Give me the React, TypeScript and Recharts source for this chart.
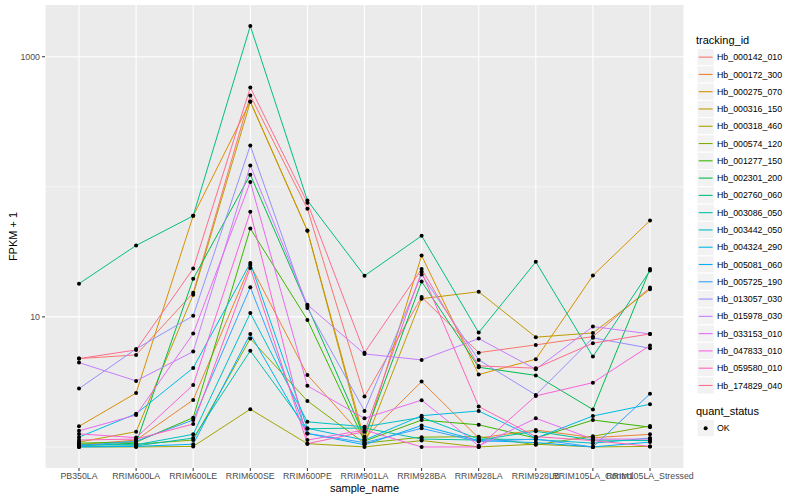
import React from "react";
import { CartesianGrid, Label, Line, LineChart, XAxis, YAxis } from "recharts";

const samples = [
  "PB350LA", "RRIM600LA", "RRIM600LE", "RRIM600SE", "RRIM600PE", "RRIM901LA",
  "RRIM928BA", "RRIM928LA", "RRIM928LB", "RRIM105LA_Control", "RRIM105LA_Stressed",
];

const trackingIds = [
  "Hb_000142_010", "Hb_000172_300", "Hb_000275_070", "Hb_000316_150", "Hb_000318_460",
  "Hb_000574_120", "Hb_001277_150", "Hb_002301_200", "Hb_002760_060", "Hb_003086_050",
  "Hb_003442_050", "Hb_004324_290", "Hb_005081_060", "Hb_005725_190", "Hb_013057_030",
  "Hb_015978_030", "Hb_033153_010", "Hb_047833_010", "Hb_059580_010", "Hb_174829_040",
];

// ggplot default hue palette, 20 levels
const hueColors = [
  "#F8766D", "#EA8331", "#D89000", "#C09B00", "#A3A500", "#7CAE00", "#39B600", "#00BB4E",
  "#00BF7D", "#00C1A3", "#00BFC4", "#00BAE0", "#00B0F6", "#35A2FF", "#9590FF", "#C77CFF",
  "#E76BF3", "#FA62DB", "#FF62BC", "#FF6C90",
];

// FPKM + 1, one value per sample
const hb000142 = [4.78, 5.1, 15.3, 504, 67.7, 2.44, 14.2, 5.31, 6.09, 7.05, 16.8];
const hb000172 = [1.04, 1.13, 2.3, 25.1, 3.58, 1.17, 3.18, 1.17, 1.35, 1.18, 1.25];
const hb000275 = [1.44, 2.6, 59.8, 453, 46.1, 1.13, 29.6, 3.6, 4.73, 20.8, 55.1];
const hb000316 = [1.09, 1.31, 14.8, 450, 45.9, 1.05, 13.8, 15.6, 6.98, 7.53, 16.3];
const hb000318 = [1.0, 1.0, 1.01, 1.95, 1.06, 1.0, 1.12, 1.0, 1.05, 1.0, 1.01];
const hb000574 = [1.05, 1.05, 1.13, 6.81, 2.26, 1.07, 1.19, 1.2, 1.04, 1.21, 1.45];
const hb001277 = [1.07, 1.09, 1.68, 47.8, 9.48, 1.11, 1.61, 1.48, 1.17, 1.61, 1.42];
const hb002301 = [1.02, 1.07, 19.6, 124, 12.1, 1.2, 18.7, 4.1, 3.55, 1.94, 23.3];
const hb002760 = [18.0, 35.4, 59.8, 1722, 78.5, 20.7, 42.0, 7.57, 26.5, 4.95, 22.7];
const hb003086 = [1.01, 1.02, 1.17, 5.48, 1.38, 1.4, 1.15, 1.13, 1.32, 1.13, 1.12];
const hb003442 = [1.04, 1.04, 1.25, 10.7, 1.56, 1.43, 1.69, 1.15, 1.14, 1.07, 1.17];
const hb004324 = [1.19, 1.8, 4.05, 26.0, 1.39, 1.13, 1.74, 1.89, 1.17, 1.73, 2.13];
const hb005081 = [1.0, 1.01, 1.05, 7.4, 1.27, 1.04, 1.46, 1.12, 1.08, 1.0, 1.09];
const hb005725 = [1.02, 1.11, 1.61, 16.9, 1.27, 1.08, 1.39, 1.1, 1.15, 1.0, 2.56];
const hb013057 = [2.81, 5.67, 10.2, 208, 11.7, 1.89, 21.2, 4.67, 2.51, 6.9, 5.74];
const hb015978 = [4.45, 3.22, 5.41, 146, 12.4, 5.19, 4.67, 6.81, 3.96, 8.42, 7.4];
const hb033153 = [1.33, 1.76, 7.44, 109, 2.95, 1.66, 2.29, 1.02, 1.66, 1.15, 1.15];
const hb047833 = [1.26, 1.18, 3.0, 64.2, 1.13, 1.35, 1.0, 1.0, 2.47, 3.12, 6.02];
const hb059580 = [1.13, 1.15, 1.5, 23.8, 1.06, 1.31, 22.2, 2.05, 1.2, 1.12, 1.01];
const hb174829 = [4.78, 5.57, 23.5, 580, 75.3, 5.31, 23.3, 4.2, 4.03, 6.28, 7.4];

const seriesValues = [
  hb000142, hb000172, hb000275, hb000316, hb000318, hb000574, hb001277, hb002301, hb002760, hb003086,
  hb003442, hb004324, hb005081, hb005725, hb013057, hb015978, hb033153, hb047833, hb059580, hb174829,
];

// log10 breaks: labelled majors (10, 1000) and minors (1, 100)
const majorBreaks = [1, 3];
const minorBreaks = [0, 2];

const data = samples.map((sample, i) => {
  const row: Record<string, string | number> = { sample };
  trackingIds.forEach((id, k) => {
    row[id] = Math.log10(seriesValues[k][i]);
  });
  return row;
});

const allLogs = seriesValues.flat().map((v) => Math.log10(v));
const lo = Math.min(...allLogs);
const hi = Math.max(...allLogs);
const pad = (hi - lo) * 0.05;
const yDomain = [lo - pad, hi + pad];

const FONT = "'Liberation Sans', Arial, Helvetica, sans-serif";

function YTitle(props: any) {
  const vb = props.viewBox;
  const cx = vb.x + 16.5;
  const cy = vb.y + vb.height / 2;
  return (
    <text x={cx} y={cy} transform={`rotate(-90, ${cx}, ${cy})`} textAnchor="middle" fontSize={11} fill="#000" fontFamily={FONT}>
      FPKM + 1
    </text>
  );
}

function LegendPanel() {
  const keySize = 17.28;
  const firstKeyTop = 48.5;
  return (
    <svg width={110} height={450} style={{ position: "absolute", left: 690, top: 0 }} fontFamily={FONT}>
      <text x={6} y={44} fontSize={11} fill="#000">tracking_id</text>
      {trackingIds.map((id, i) => {
        const top = firstKeyTop + i * keySize;
        return (
          <g key={id}>
            <rect x={7} y={top} width={keySize} height={keySize} fill="#F2F2F2" stroke="#FFFFFF" strokeWidth={1} />
            <line x1={8.7} x2={7 + keySize - 1.7} y1={top + keySize / 2} y2={top + keySize / 2} stroke={hueColors[i]} strokeWidth={1.1} />
            <text x={27} y={top + keySize / 2 + 3.1} fontSize={8.8} fill="#000">{id}</text>
          </g>
        );
      })}
      <text x={6} y={415} fontSize={11} fill="#000">quant_status</text>
      <rect x={7} y={419.5} width={keySize} height={keySize} fill="#F2F2F2" stroke="#FFFFFF" strokeWidth={1} />
      <circle cx={7 + keySize / 2} cy={419.5 + keySize / 2} r={2} fill="#000" />
      <text x={27} y={419.5 + keySize / 2 + 3.1} fontSize={8.8} fill="#000">OK</text>
    </svg>
  );
}

export default function App() {
  return (
    <div style={{ position: "absolute", left: 0, top: 0, width: 800, height: 500, background: "#FFFFFF", fontFamily: FONT }}>
      <LineChart width={800} height={500} data={data} margin={{ top: 5, right: 116, bottom: 0, left: 0 }}>
        <CartesianGrid fill="#EBEBEB" stroke="#FFFFFF" strokeWidth={1.07} horizontalValues={majorBreaks} />
        <CartesianGrid stroke="#FFFFFF" strokeWidth={0.53} vertical={false} horizontalValues={minorBreaks} />
        <XAxis
          dataKey="sample"
          scale="point"
          padding={{ left: 34, right: 34 }}
          interval={0}
          height={32}
          tickSize={3}
          tickMargin={2}
          axisLine={false}
          tickLine={{ stroke: "#333333", strokeWidth: 1 }}
          tick={{ fill: "#4D4D4D", fontSize: 8.8, fontFamily: FONT }}
        >
          <Label value="sample_name" position="insideBottom" offset={8} fill="#000" fontSize={11} fontFamily={FONT} />
        </XAxis>
        <YAxis
          type="number"
          domain={yDomain}
          allowDataOverflow
          ticks={majorBreaks}
          tickFormatter={(v: number) => String(Math.round(Math.pow(10, v)))}
          width={45}
          tickSize={3}
          tickMargin={2}
          axisLine={false}
          tickLine={{ stroke: "#333333", strokeWidth: 1 }}
          tick={{ fill: "#4D4D4D", fontSize: 8.8, fontFamily: FONT }}
        >
          <Label content={<YTitle />} />
        </YAxis>
        {trackingIds.map((id, k) => (
          <Line key={id} type="linear" dataKey={id} stroke={hueColors[k]} strokeWidth={1} dot={false} activeDot={false} isAnimationActive={false} />
        ))}
        {trackingIds.map((id) => (
          <Line
            key={id + "_pt"}
            type="linear"
            dataKey={id}
            stroke="none"
            dot={{ r: 2, fill: "#000000", stroke: "none" }}
            activeDot={false}
            isAnimationActive={false}
          />
        ))}
      </LineChart>
      <LegendPanel />
    </div>
  );
}
